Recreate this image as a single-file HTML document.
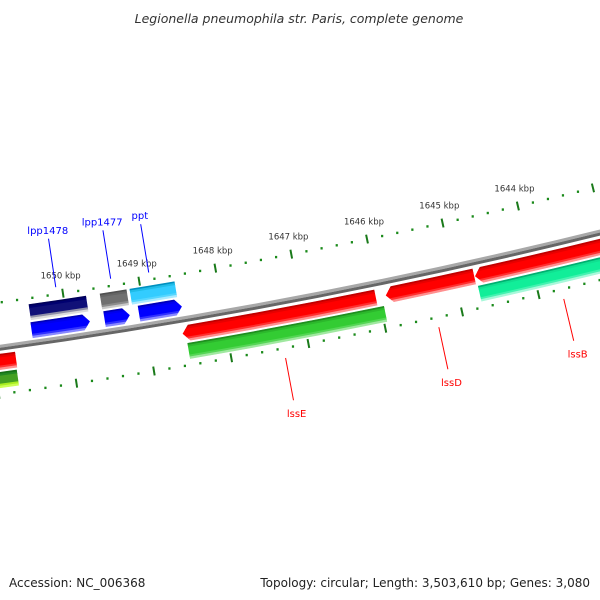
<!DOCTYPE html>
<html><head><meta charset="utf-8"><style>
html,body{margin:0;padding:0;background:#fff;}
svg{display:block;font-family:"DejaVu Sans","Liberation Sans",sans-serif;}
</style></head><body>
<svg id="map" width="600" height="600" viewBox="0 0 600 600" xmlns="http://www.w3.org/2000/svg">
<defs id="defs"></defs>
<text x="299" y="23" text-anchor="middle" font-size="12.5" font-style="italic" fill="#333">Legionella pneumophila str. Paris, complete genome</text>
<text x="9" y="587" font-size="12" fill="#222">Accession: NC_006368</text>
<text x="590" y="587" text-anchor="end" font-size="12" fill="#222">Topology: circular; Length: 3,503,610 bp; Genes: 3,080</text>
<g id="plot"></g>
</svg>
<script>
// ---- data ----
const majorTicks = [1650, 1649, 1648, 1647, 1646, 1645, 1644];
const tickLabels = ["1650 kbp","1649 kbp","1648 kbp","1647 kbp","1646 kbp","1645 kbp","1644 kbp"];
const featNames  = ["lpp1478","lpp1478b","lpp1477","lpp1477b","ppt","pptb","lssE","lssEg","lssD","lssB","lssBg","leftRed","leftGreen"];
const featStart  = [1650.46, 1650.47, 1649.53, 1649.52, 1649.14, 1649.07, 1648.56, 1648.52, 1645.91, 1644.74, 1644.73, 1651.4, 1651.4];
const featEnd    = [1649.71, 1649.71, 1649.18, 1649.19, 1648.55, 1648.51, 1646.04, 1645.96, 1644.75, 1642.0, 1642.0, 1650.72, 1650.73];
const featLayer  = [-31, -13, -31, -13, -31, -13, 14, 32, 14, 14, 32, 14, 32];
const featFill   = ["navy","blue","gray","blue","cyan","blue","red","green","red","red","aqua","red","lime"];
const featArrow  = ["none","right","none","right","none","right","left","none","left","left","none","none","none"];
const labelText  = ["lpp1478","lpp1477","ppt","lssE","lssD","lssB"];
const labelKbp   = [1650.08, 1649.36, 1648.86, 1647.32, 1645.33, 1643.70];
const labelSide  = ["up","up","up","down","down","down"];
const labelColor = ["#0000ff","#0000ff","#0000ff","#ff0000","#ff0000","#ff0000"];

// palette: [top, upper, main, lower, bottom] strips
const PAL = {
  red:   ["#c00000","#e80000","#ff0000","#ff3030","#ff9090"],
  green: ["#1f8f1f","#2cb82c","#33cc33","#55d655","#a0e8a0"],
  aqua:  ["#00b070","#10e090","#11ee99","#44f2b0","#a8f8da"],
  lime:  ["#167016","#228822","#44a022","#aaee22","#ccff55"],
  blue:  ["#0000b8","#0000ee","#0000ff","#3030ff","#8888ff"],
  navy:  ["#000058","#000070","#101078","#9090a8","#dcdcdc"],
  gray:  ["#505050","#646464","#707070","#8c8c8c","#c8c8c8"],
  cyan:  ["#0090c0","#20bce8","#33ccff","#55d6ff","#aaeaff"]
};
const STRIP = [0, 2, 4, 12, 14, 16];

// ---- geometry ----
const CX = -802.6, CY = -5453, RB = 5856, RUP = 5811, RDN = 5902;
const PHI0 = 0.18937, DPHI = 0.01329;
function phi(k){ return PHI0 + (1647 - k) * DPHI; }
function pt(k, r){ const p = phi(k); return [CX + r*Math.sin(p), CY + r*Math.cos(p)]; }
const NS = "http://www.w3.org/2000/svg";
const g = document.getElementById('plot');
const defs = document.getElementById('defs');
function mk(tag, attrs, parent){ const e = document.createElementNS(NS, tag); for (const a in attrs) e.setAttribute(a, attrs[a]); (parent||g).appendChild(e); return e; }
function f(p){ return p[0].toFixed(2)+","+p[1].toFixed(2); }
function band(a, b, r1, r2, arrow){
  const head = 0.085;
  let d = "";
  if (arrow === "left") {
    const a2 = a - head, rm = (r1+r2)/2;
    d += "M"+f(pt(a,rm))+" L"+f(pt(a2,r1));
    d += " A"+r1+" "+r1+" 0 0 0 "+f(pt(b,r1));
    d += " L"+f(pt(b,r2));
    d += " A"+r2+" "+r2+" 0 0 1 "+f(pt(a2,r2))+" Z";
  } else if (arrow === "right") {
    const b2 = b + head, rm = (r1+r2)/2;
    d += "M"+f(pt(a,r1))+" A"+r1+" "+r1+" 0 0 0 "+f(pt(b2,r1));
    d += " L"+f(pt(b,rm))+" L"+f(pt(b2,r2));
    d += " A"+r2+" "+r2+" 0 0 1 "+f(pt(a,r2))+" Z";
  } else {
    d += "M"+f(pt(a,r1))+" A"+r1+" "+r1+" 0 0 0 "+f(pt(b,r1));
    d += " L"+f(pt(b,r2));
    d += " A"+r2+" "+r2+" 0 0 1 "+f(pt(a,r2))+" Z";
  }
  return d;
}

// backbone
const bb1 = mk('path', {d: band(1652, 1641, RB-3, RB, "none"), fill: "#a8a8a8"});


const bb2 = mk('path', {d: band(1652, 1641, RB, RB+3, "none"), fill: "#666"});



// ticks
for (let i = 0; i <= 50; i++) {
  const k = 1652 - i*0.2;
  const isMajor = Math.abs(k - Math.round(k)) < 1e-6;
  [RUP, RDN].forEach(function(r){
    const p = pt(k, r);
    const ang = -phi(k) * 180 / Math.PI;
    let t;
    if (isMajor) {
      t = mk('rect', {x: p[0]-1, y: p[1]-4.5, width: 2, height: 9, fill: "#1a7a1a", transform: "rotate("+ang+" "+p[0]+" "+p[1]+")"});
      
    } else {
      t = mk('rect', {x: p[0]-1.1, y: p[1]-1.1, width: 2.2, height: 2.4, fill: "#1a8a1a"});
      
    }
    
  });
}
majorTicks.forEach(function(k, i){
  const p = pt(k, RUP - 15);
  const t = mk('text', {x: p[0], y: p[1], 'text-anchor': 'middle', 'font-size': 8.5, fill: '#333'});
  t.textContent = tickLabels[i];
  
  
});

// features
featNames.forEach(function(n, i){
  const r = RB + featLayer[i];
  const r1 = r - 8, r2 = r + 8;
  const shape = band(featStart[i], featEnd[i], r1, r2, featArrow[i]);
  const cp = mk('clipPath', {id: 'clip' + i}, defs);
  mk('path', {d: shape}, cp);
  const grp = mk('g', {'clip-path': 'url(#clip' + i + ')'});
  
  
  const cols = PAL[featFill[i]];
  for (let s = 0; s < 5; s++) {
    mk('path', {d: band(featStart[i] + 0.2, featEnd[i] - 0.2, r1 + STRIP[s] - 0.3, r1 + STRIP[s+1] + 0.3, "none"), fill: cols[s]}, grp);
  }
});

// labels
labelText.forEach(function(txt, i){
  const up = labelSide[i] === "up";
  const p1 = pt(labelKbp[i], up ? 5804 : 5912);
  const p2 = pt(labelKbp[i], up ? 5755 : 5955);
  const l = mk('line', {x1: p1[0], y1: p1[1], x2: p2[0], y2: p2[1], stroke: labelColor[i], 'stroke-width': 1});
  
  
  const p3 = pt(labelKbp[i], up ? 5750 : 5972);
  const t = mk('text', {x: p3[0], y: p3[1], 'text-anchor': 'middle', 'font-size': 10, fill: labelColor[i]});
  t.textContent = txt;
  
  
});
</script>
</body></html>
